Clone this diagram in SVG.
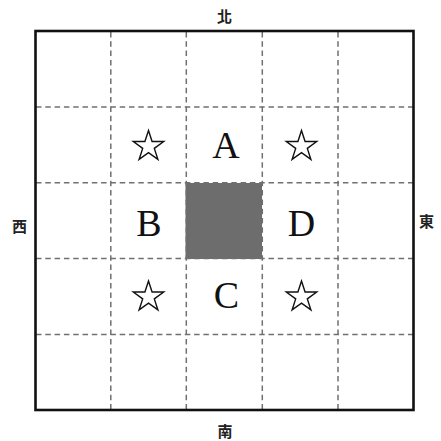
<svg xmlns="http://www.w3.org/2000/svg" width="441" height="441" viewBox="0 0 441 441">
<style>
.grid{stroke:#707070;stroke-width:1.5;stroke-dasharray:5.5,3.8;fill:none}
.letter{font-family:"Liberation Serif","DejaVu Serif",serif;font-size:38px;fill:#111;text-anchor:middle}
.dir{font-family:"Noto Sans CJK TC","Noto Sans CJK SC",sans-serif;font-size:15px;font-weight:bold;fill:#222;text-anchor:middle;dominant-baseline:central}
.star{fill:#fff;stroke:#111;stroke-width:1.4;stroke-linejoin:miter}
</style>
<defs>
<path id="star" d="M0,-16 L3.59,-4.94 L15.22,-4.94 L5.81,1.89 L9.4,12.94 L0,6.11 L-9.4,12.94 L-5.81,1.89 L-15.22,-4.94 L-3.59,-4.94 Z"/>
</defs>
<rect width="441" height="441" fill="#fff"/>
<g id="center-cell">
<rect x="185.5" y="183" width="76.5" height="76" fill="#6d6d6d"/>
</g>
<g id="connectors">
<line class="grid" x1="110.8" y1="32" x2="110.8" y2="409"/>
<line class="grid" x1="186.3" y1="32" x2="186.3" y2="409"/>
<line class="grid" x1="262.3" y1="32" x2="262.3" y2="409"/>
<line class="grid" x1="338" y1="32" x2="338" y2="409"/>
<line class="grid" x1="36" y1="107" x2="413" y2="107"/>
<line class="grid" x1="36" y1="182.8" x2="413" y2="182.8"/>
<line class="grid" x1="36" y1="258.6" x2="413" y2="258.6"/>
<line class="grid" x1="36" y1="334.4" x2="413" y2="334.4"/>
</g>
<rect id="frame" x="35.5" y="31" width="378" height="379" fill="none" stroke="#111" stroke-width="2.6"/>
<g id="star-nw"><use href="#star" class="star" transform="translate(148.5,146.5)"/></g>
<g id="star-ne"><use href="#star" class="star" transform="translate(301.5,146.5)"/></g>
<g id="star-sw"><use href="#star" class="star" transform="translate(148.5,297)"/></g>
<g id="star-se"><use href="#star" class="star" transform="translate(301.5,297)"/></g>
<g id="A"><text class="letter" x="226" y="158">A</text></g>
<g id="B"><text class="letter" x="149" y="235.5">B</text></g>
<g id="C"><text class="letter" x="226.5" y="308">C</text></g>
<g id="D"><text class="letter" x="301.5" y="235.5">D</text></g>
<g id="north"><text class="dir" x="224.5" y="15">北</text></g>
<g id="west"><text class="dir" x="19.5" y="225">西</text></g>
<g id="east"><text class="dir" x="426.5" y="220">東</text></g>
<g id="south"><text class="dir" x="225" y="430">南</text></g>
</svg>
